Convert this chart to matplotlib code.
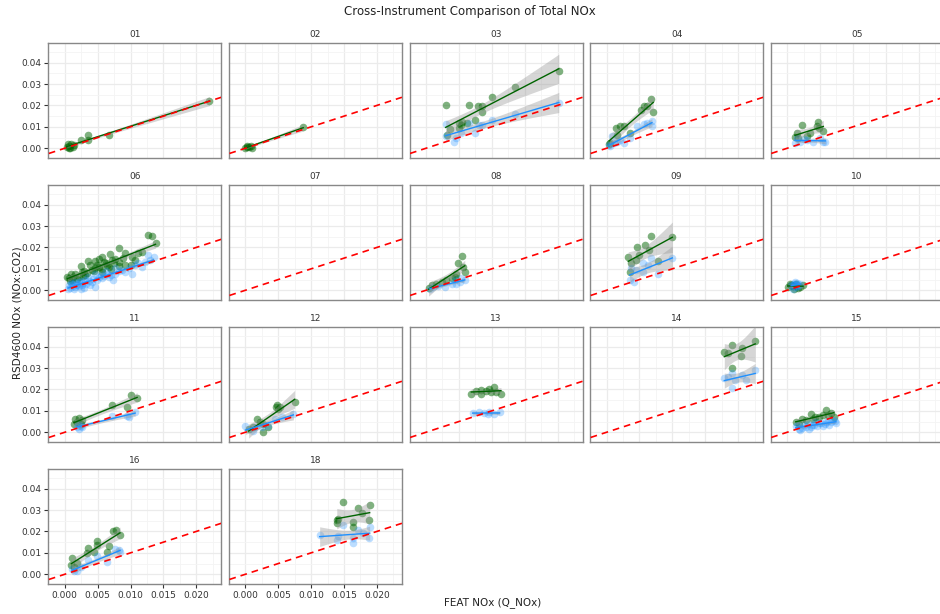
import matplotlib
matplotlib.use("Agg")
import matplotlib.pyplot as plt
import numpy as np

# facet labels, in reading order (no 17)
facets = ["01", "02", "03", "04", "05", "06", "07", "08", "09", "10",
          "11", "12", "13", "14", "15", "16", "18"]

# (FEAT NOx, RSD NOx) pairs
green_01 = [(0.0003, 0.0005), (0.0006, 0.0012), (0.0008, 0.0002), (0.0010, 0.0018), (0.0005, 0.0020),
            (0.0012, 0.0008), (0.0007, 0.0000), (0.0014, 0.0016), (0.0024, 0.0039), (0.0036, 0.0062),
            (0.0036, 0.0040), (0.0067, 0.0063), (0.0220, 0.0219)]
blue_01 = []
green_02 = [(0.0000, 0.0002), (0.0003, 0.0008), (0.0006, 0.0004), (0.0008, 0.0010), (0.0002, 0.0012),
            (0.0010, 0.0003), (0.0088, 0.0097)]
blue_02 = []
green_03 = [(0.0030, 0.0203), (0.0065, 0.0203), (0.0079, 0.0198), (0.0085, 0.0198), (0.0100, 0.0238),
            (0.0135, 0.0284), (0.0202, 0.0360), (0.0085, 0.0167), (0.0075, 0.0133), (0.0055, 0.0123),
            (0.0050, 0.0117), (0.0053, 0.0110), (0.0032, 0.0063), (0.0037, 0.0089), (0.0050, 0.0094),
            (0.0063, 0.0120)]
blue_03 = [(0.0030, 0.0114), (0.0030, 0.0055), (0.0042, 0.0031), (0.0053, 0.0070), (0.0065, 0.0117),
           (0.0075, 0.0073), (0.0080, 0.0110), (0.0100, 0.0130), (0.0135, 0.0161), (0.0202, 0.0211),
           (0.0045, 0.0047), (0.0085, 0.0110)]
green_04 = [(0.0067, 0.0230), (0.0057, 0.0195), (0.0052, 0.0180), (0.0062, 0.0195), (0.0071, 0.0169),
            (0.0026, 0.0105), (0.0021, 0.0102), (0.0014, 0.0094), (0.0036, 0.0070), (0.0006, 0.0023),
            (0.0004, 0.0019), (0.0016, 0.0063)]
blue_04 = [(0.0069, 0.0125), (0.0062, 0.0117), (0.0057, 0.0113), (0.0069, 0.0102), (0.0036, 0.0047),
           (0.0021, 0.0039), (0.0011, 0.0023), (0.0004, 0.0016), (0.0009, 0.0055), (0.0026, 0.0023),
           (0.0046, 0.0102), (0.0016, 0.0030), (0.0006, 0.0010)]
green_05 = [(0.0022, 0.0108), (0.0047, 0.0122), (0.0046, 0.0102), (0.0035, 0.0073), (0.0015, 0.0070),
            (0.0017, 0.0047), (0.0030, 0.0055), (0.0055, 0.0080), (0.0048, 0.0095), (0.0012, 0.0052)]
blue_05 = [(0.0012, 0.0023), (0.0020, 0.0031), (0.0030, 0.0039), (0.0040, 0.0031), (0.0050, 0.0047),
           (0.0058, 0.0027), (0.0015, 0.0047), (0.0055, 0.0031), (0.0025, 0.0045)]
green_06 = [(0.0126, 0.0258), (0.0133, 0.0253), (0.0138, 0.0223), (0.0083, 0.0198), (0.0024, 0.0114),
            (0.0006, 0.0055), (0.0036, 0.0136), (0.0046, 0.0136), (0.0057, 0.0156), (0.0069, 0.0167),
            (0.0077, 0.0148), (0.0059, 0.0133), (0.0102, 0.0156), (0.0092, 0.0117), (0.0112, 0.0172),
            (0.0016, 0.0078), (0.0026, 0.0083), (0.0041, 0.0094), (0.0052, 0.0109), (0.0064, 0.0117),
            (0.0031, 0.0070), (0.0011, 0.0047), (0.0021, 0.0063), (0.0046, 0.0102), (0.0072, 0.0141),
            (0.0082, 0.0130), (0.0057, 0.0086), (0.0039, 0.0117), (0.0092, 0.0172), (0.0107, 0.0141),
            (0.0067, 0.0109), (0.0100, 0.0117), (0.0004, 0.0063), (0.0009, 0.0078), (0.0052, 0.0144),
            (0.0013, 0.0060), (0.0018, 0.0052), (0.0028, 0.0066), (0.0034, 0.0080), (0.0044, 0.0088),
            (0.0062, 0.0125), (0.0075, 0.0128), (0.0088, 0.0150), (0.0056, 0.0101), (0.0008, 0.0042),
            (0.0030, 0.0092), (0.0049, 0.0120), (0.0070, 0.0100), (0.0083, 0.0112), (0.0118, 0.0180)]
blue_06 = [(0.0127, 0.0164), (0.0135, 0.0156), (0.0117, 0.0109), (0.0102, 0.0078), (0.0092, 0.0083),
           (0.0077, 0.0078), (0.0067, 0.0063), (0.0052, 0.0063), (0.0041, 0.0039), (0.0046, 0.0016),
           (0.0026, 0.0023), (0.0016, 0.0016), (0.0006, 0.0023), (0.0011, 0.0031), (0.0021, 0.0039),
           (0.0031, 0.0047), (0.0036, 0.0063), (0.0057, 0.0055), (0.0077, 0.0102), (0.0087, 0.0094),
           (0.0107, 0.0117), (0.0122, 0.0133), (0.0014, 0.0008), (0.0062, 0.0089), (0.0097, 0.0102),
           (0.0039, 0.0023), (0.0024, 0.0008), (0.0074, 0.0047), (0.0046, 0.0078),
           (0.0008, 0.0012), (0.0012, 0.0020), (0.0018, 0.0026), (0.0022, 0.0018), (0.0028, 0.0032),
           (0.0033, 0.0028), (0.0009, 0.0036), (0.0015, 0.0040), (0.0030, 0.0012), (0.0037, 0.0044),
           (0.0043, 0.0052), (0.0049, 0.0046), (0.0055, 0.0072), (0.0060, 0.0066), (0.0065, 0.0076),
           (0.0070, 0.0070), (0.0082, 0.0088), (0.0005, 0.0005), (0.0019, 0.0031), (0.0025, 0.0043),
           (0.0112, 0.0125), (0.0130, 0.0140)]
green_07 = []
blue_07 = []
green_08 = [(0.0055, 0.0161), (0.0049, 0.0125), (0.0057, 0.0109), (0.0059, 0.0083), (0.0044, 0.0063),
            (0.0024, 0.0039), (0.0016, 0.0031), (0.0009, 0.0023), (0.0004, 0.0011), (0.0031, 0.0047),
            (0.0046, 0.0078), (0.0039, 0.0055)]
blue_08 = [(0.0059, 0.0047), (0.0052, 0.0039), (0.0046, 0.0031), (0.0039, 0.0027), (0.0029, 0.0016),
           (0.0019, 0.0019), (0.0006, 0.0008), (0.0011, 0.0016), (0.0044, 0.0047), (0.0054, 0.0055)]
green_09 = [(0.0068, 0.0253), (0.0100, 0.0250), (0.0047, 0.0203), (0.0058, 0.0211), (0.0065, 0.0188),
            (0.0033, 0.0156), (0.0045, 0.0141), (0.0037, 0.0125), (0.0078, 0.0136), (0.0035, 0.0083),
            (0.0050, 0.0164)]
blue_09 = [(0.0068, 0.0152), (0.0100, 0.0152), (0.0055, 0.0125), (0.0037, 0.0102), (0.0045, 0.0094),
           (0.0078, 0.0078), (0.0035, 0.0047), (0.0042, 0.0039), (0.0055, 0.0086), (0.0063, 0.0117)]
green_10 = [(0.0001, 0.0016), (0.0006, 0.0023), (0.0014, 0.0031), (0.0019, 0.0016), (0.0024, 0.0023),
            (0.0011, 0.0008), (0.0004, 0.0027), (0.0009, 0.0020), (0.0016, 0.0012)]
blue_10 = [(0.0006, 0.0023), (0.0011, 0.0031), (0.0014, 0.0016), (0.0009, 0.0008), (0.0016, 0.0023),
           (0.0019, 0.0031), (0.0012, 0.0039), (0.0008, 0.0018), (0.0013, 0.0026), (0.0017, 0.0020),
           (0.0010, 0.0030), (0.0015, 0.0034)]
green_11 = [(0.0110, 0.0161), (0.0100, 0.0172), (0.0072, 0.0125), (0.0094, 0.0117), (0.0016, 0.0063),
            (0.0021, 0.0067), (0.0026, 0.0055), (0.0019, 0.0047), (0.0024, 0.0039), (0.0014, 0.0039)]
blue_11 = [(0.0019, 0.0023), (0.0021, 0.0016), (0.0024, 0.0031), (0.0026, 0.0023), (0.0020, 0.0039),
           (0.0072, 0.0078), (0.0094, 0.0078), (0.0107, 0.0094), (0.0097, 0.0070)]
green_12 = [(0.0075, 0.0141), (0.0047, 0.0117), (0.0050, 0.0109), (0.0017, 0.0063), (0.0022, 0.0047),
            (0.0027, 0.0039), (0.0035, 0.0023), (0.0027, 0.0000), (0.0005, 0.0015), (0.0012, 0.0025),
            (0.0048, 0.0125), (0.0052, 0.0120)]
blue_12 = [(0.0000, 0.0031), (0.0012, 0.0008), (0.0025, 0.0023), (0.0045, 0.0063), (0.0055, 0.0070),
           (0.0073, 0.0083), (0.0015, 0.0023), (0.0035, 0.0031)]
green_13 = [(0.0069, 0.0180), (0.0076, 0.0192), (0.0084, 0.0198), (0.0091, 0.0192), (0.0096, 0.0203),
            (0.0104, 0.0211), (0.0107, 0.0188), (0.0114, 0.0180), (0.0084, 0.0180), (0.0099, 0.0188)]
blue_13 = [(0.0071, 0.0089), (0.0081, 0.0094), (0.0089, 0.0089), (0.0096, 0.0094), (0.0104, 0.0086),
           (0.0112, 0.0094), (0.0094, 0.0083)]
green_14 = [(0.0179, 0.0377), (0.0191, 0.0408), (0.0206, 0.0395), (0.0226, 0.0428), (0.0204, 0.0356),
            (0.0190, 0.0298), (0.0184, 0.0369)]
blue_14 = [(0.0179, 0.0252), (0.0190, 0.0278), (0.0190, 0.0205), (0.0196, 0.0244), (0.0206, 0.0267),
           (0.0212, 0.0244), (0.0226, 0.0291), (0.0184, 0.0256)]
green_15 = [(0.0013, 0.0048), (0.0023, 0.0060), (0.0036, 0.0087), (0.0048, 0.0072), (0.0059, 0.0103),
            (0.0066, 0.0091), (0.0043, 0.0069), (0.0054, 0.0080), (0.0071, 0.0072), (0.0028, 0.0056),
            (0.0018, 0.0040), (0.0062, 0.0082), (0.0039, 0.0062)]
blue_15 = [(0.0018, 0.0017), (0.0028, 0.0025), (0.0038, 0.0033), (0.0048, 0.0041), (0.0059, 0.0048),
           (0.0069, 0.0056), (0.0074, 0.0041), (0.0013, 0.0028), (0.0033, 0.0017), (0.0043, 0.0048),
           (0.0064, 0.0036), (0.0054, 0.0028), (0.0016, 0.0036), (0.0023, 0.0020), (0.0031, 0.0038),
           (0.0036, 0.0024), (0.0041, 0.0036), (0.0046, 0.0030), (0.0051, 0.0044), (0.0057, 0.0038),
           (0.0062, 0.0052), (0.0067, 0.0046), (0.0072, 0.0052), (0.0026, 0.0032), (0.0020, 0.0012)]
green_16 = [(0.0011, 0.0075), (0.0078, 0.0208), (0.0084, 0.0184), (0.0074, 0.0200), (0.0049, 0.0153),
            (0.0049, 0.0138), (0.0036, 0.0122), (0.0044, 0.0106), (0.0034, 0.0098), (0.0068, 0.0130),
            (0.0064, 0.0106), (0.0019, 0.0052), (0.0010, 0.0044), (0.0014, 0.0036)]
blue_16 = [(0.0077, 0.0117), (0.0082, 0.0111), (0.0084, 0.0102), (0.0049, 0.0083), (0.0036, 0.0067),
           (0.0064, 0.0059), (0.0024, 0.0036), (0.0014, 0.0013), (0.0011, 0.0023), (0.0019, 0.0017)]
green_18 = [(0.0149, 0.0339), (0.0189, 0.0325), (0.0172, 0.0309), (0.0178, 0.0286), (0.0188, 0.0252),
            (0.0140, 0.0255), (0.0139, 0.0239), (0.0163, 0.0242), (0.0164, 0.0220), (0.0141, 0.0259)]
blue_18 = [(0.0113, 0.0181), (0.0139, 0.0161), (0.0149, 0.0231), (0.0164, 0.0148), (0.0163, 0.0169),
           (0.0172, 0.0208), (0.0179, 0.0192), (0.0188, 0.0169), (0.0189, 0.0220), (0.0141, 0.0177)]

series = {
    "01": (green_01, blue_01), "02": (green_02, blue_02), "03": (green_03, blue_03),
    "04": (green_04, blue_04), "05": (green_05, blue_05), "06": (green_06, blue_06),
    "07": (green_07, blue_07), "08": (green_08, blue_08), "09": (green_09, blue_09),
    "10": (green_10, blue_10), "11": (green_11, blue_11), "12": (green_12, blue_12),
    "13": (green_13, blue_13), "14": (green_14, blue_14), "15": (green_15, blue_15),
    "16": (green_16, blue_16), "18": (green_18, blue_18),
}

x_ticks = [0.0, 0.005, 0.010, 0.015, 0.020]
y_ticks = [0.00, 0.01, 0.02, 0.03, 0.04]

GREEN = "darkgreen"
BLUE = "dodgerblue"


def tcrit(df):
    # rough 97.5% t quantile
    return 1.96 + 2.37 / df + 2.8 / df ** 2


def smooth(ax, pts, col):
    if len(pts) < 3:
        return
    x = np.array([p[0] for p in pts])
    y = np.array([p[1] for p in pts])
    b, a = np.polyfit(x, y, 1)
    n = len(x)
    resid = y - (a + b * x)
    s = np.sqrt(np.sum(resid ** 2) / (n - 2))
    sxx = np.sum((x - x.mean()) ** 2)
    xs = np.linspace(x.min(), x.max(), 80)
    fit = a + b * xs
    se = s * np.sqrt(1.0 / n + (xs - x.mean()) ** 2 / sxx)
    t = tcrit(n - 2)
    ax.fill_between(xs, fit - t * se, fit + t * se, color="#999999", alpha=0.4, lw=0, zorder=4)
    ax.plot(xs, fit, color=col, lw=1.0, zorder=5)


W, H = 940, 614
fig = plt.figure(figsize=(9.4, 6.14), dpi=100)
fig.patch.set_facecolor("white")

pw, ph = 173.0, 114.4
lefts = [48.3 + i * 180.6 for i in range(5)]
tops = [43.3 + j * 142.0 for j in range(4)]

xmin, xmax = -0.00242, 0.0238
ymin, ymax = -0.0044, 0.049

for k, lab in enumerate(facets):
    r, c = divmod(k, 5)
    ax = fig.add_axes([lefts[c] / W, 1 - (tops[r] + ph) / H, pw / W, ph / H])
    ax.set_xlim(xmin, xmax)
    ax.set_ylim(ymin, ymax)
    ax.set_xticks(x_ticks)
    ax.set_yticks(y_ticks)
    ax.set_xticks([-0.0025, 0.0025, 0.0075, 0.0125, 0.0175, 0.0225], minor=True)
    ax.set_yticks([0.005, 0.015, 0.025, 0.035, 0.045], minor=True)
    ax.grid(True, which="major", color="#ebebeb", lw=0.9)
    ax.grid(True, which="minor", color="#f4f4f4", lw=0.6)
    ax.set_axisbelow(True)
    for sp in ax.spines.values():
        sp.set_color("#888888")
        sp.set_linewidth(1.0)
    ax.tick_params(which="minor", length=0)
    ax.tick_params(which="major", length=3, width=0.8, color="#333333",
                   labelsize=6.5, labelcolor="#333333", pad=2)
    if c == 0:
        ax.set_yticklabels(["%.2f" % v for v in y_ticks])
    else:
        ax.tick_params(axis="y", length=0, labelleft=False)
    if r == 3:
        ax.set_xticklabels(["%.3f" % v for v in x_ticks])
    else:
        ax.tick_params(axis="x", length=0, labelbottom=False)

    ax.plot([xmin, xmax], [xmin, xmax], color="red", ls=(0, (4, 3)), lw=1.2, zorder=6)

    g, b = series[lab]
    if g:
        ax.scatter([p[0] for p in g], [p[1] for p in g], s=30, color=GREEN, alpha=0.5, lw=0, zorder=2)
    if b:
        ax.scatter([p[0] for p in b], [p[1] for p in b], s=30, color=BLUE, alpha=0.3, lw=0, zorder=3)
    smooth(ax, g, GREEN)
    smooth(ax, b, BLUE)

    fig.text((lefts[c] + pw / 2) / W, 1 - (tops[r] - 9) / H, lab, ha="center", va="center",
             fontsize=6.5, color="#333333")

fig.text(470 / W, 1 - 12 / H, "Cross-Instrument Comparison of Total NOx", ha="center", va="center",
         fontsize=8.5, color="#222222")
fig.text(493 / W, 1 - 603 / H, "FEAT NOx (Q_NOx)", ha="center", va="center", fontsize=7.5, color="#222222")
fig.text(18 / W, 1 - 313 / H, "RSD4600 NOx (NOx:CO2)", ha="center", va="center", rotation=90,
         fontsize=7.5, color="#222222")

fig.savefig("out.png", dpi=100)
